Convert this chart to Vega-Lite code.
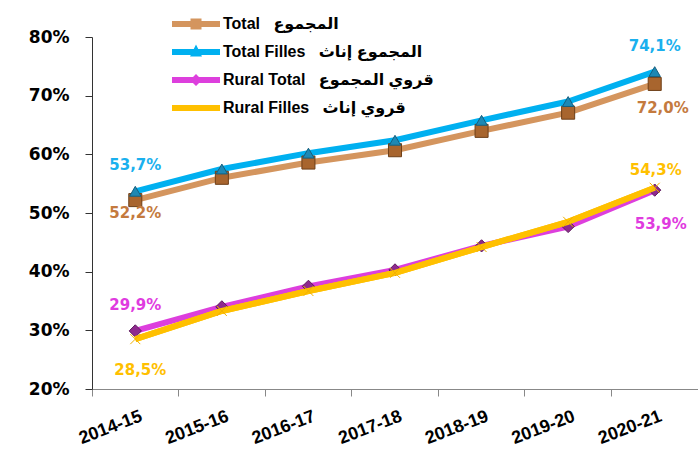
{
  "$schema": "https://vega.github.io/schema/vega-lite/v6.json",
  "width": 606,
  "height": 352,
  "autosize": {"type": "none"},
  "padding": {"left": 92, "top": 37, "right": 0, "bottom": 60},
  "background": "white",
  "config": {
    "view": {"stroke": null},
    "locale": {"number": {"decimal": ",", "thousands": " ", "grouping": [3], "currency": ["", " €"]}}
  },
  "data": {
    "values": [
      {"year": "2014-15", "series": "Total", "value": 0.522},
      {"year": "2015-16", "series": "Total", "value": 0.560},
      {"year": "2016-17", "series": "Total", "value": 0.586},
      {"year": "2017-18", "series": "Total", "value": 0.607},
      {"year": "2018-19", "series": "Total", "value": 0.640},
      {"year": "2019-20", "series": "Total", "value": 0.671},
      {"year": "2020-21", "series": "Total", "value": 0.720},
      {"year": "2014-15", "series": "Total Filles", "value": 0.537},
      {"year": "2015-16", "series": "Total Filles", "value": 0.575},
      {"year": "2016-17", "series": "Total Filles", "value": 0.602},
      {"year": "2017-18", "series": "Total Filles", "value": 0.624},
      {"year": "2018-19", "series": "Total Filles", "value": 0.658},
      {"year": "2019-20", "series": "Total Filles", "value": 0.690},
      {"year": "2020-21", "series": "Total Filles", "value": 0.741},
      {"year": "2014-15", "series": "Rural Total", "value": 0.299},
      {"year": "2015-16", "series": "Rural Total", "value": 0.340},
      {"year": "2016-17", "series": "Rural Total", "value": 0.375},
      {"year": "2017-18", "series": "Rural Total", "value": 0.403},
      {"year": "2018-19", "series": "Rural Total", "value": 0.444},
      {"year": "2019-20", "series": "Rural Total", "value": 0.477},
      {"year": "2020-21", "series": "Rural Total", "value": 0.539},
      {"year": "2014-15", "series": "Rural Filles", "value": 0.285},
      {"year": "2015-16", "series": "Rural Filles", "value": 0.333},
      {"year": "2016-17", "series": "Rural Filles", "value": 0.367},
      {"year": "2017-18", "series": "Rural Filles", "value": 0.398},
      {"year": "2018-19", "series": "Rural Filles", "value": 0.442},
      {"year": "2019-20", "series": "Rural Filles", "value": 0.485},
      {"year": "2020-21", "series": "Rural Filles", "value": 0.543}
    ]
  },
  "encoding": {
    "x": {
      "field": "year", "type": "ordinal", "sort": null,
      "scale": {"type": "band", "paddingInner": 0, "paddingOuter": 0},
      "axis": {
        "title": null, "bandPosition": 0, "labelAngle": -21, "labelAlign": "right", "labelBaseline": "top",
        "labelOffset": 3, "labelPadding": 11, "labelFont": "Liberation Sans", "labelFontSize": 18,
        "labelFontWeight": "bold", "labelColor": "#000000", "tickSize": 7, "tickColor": "#888888",
        "domainColor": "#888888", "labelOverlap": false, "labelFlush": false, "grid": false
      }
    },
    "y": {
      "field": "value", "type": "quantitative",
      "scale": {"domain": [0.2, 0.8], "nice": false, "zero": false},
      "axis": {
        "title": null, "values": [0.2, 0.3, 0.4, 0.5, 0.6, 0.7, 0.8], "format": ".0%",
        "labelFont": "DejaVu Sans", "labelFontSize": 17, "labelFontWeight": "bold", "labelColor": "#000000",
        "labelPadding": 16, "tickSize": 7, "tickColor": "#333333", "domainColor": "#333333", "grid": false
      }
    }
  },
  "layer": [
    {
      "mark": {"type": "line", "strokeWidth": 6, "strokeJoin": "round"},
      "encoding": {
        "color": {
          "field": "series", "type": "nominal",
          "scale": {"domain": ["Total", "Total Filles", "Rural Total", "Rural Filles"], "range": ["#D4955E", "#00B0F0", "#DD3FDD", "#FFC000"]},
          "legend": {
            "orient": "none", "legendX": 94, "legendY": -23, "title": null, "padding": 0,
            "symbolSize": 400, "labelOffset": 17, "rowPadding": 10,
            "labelFont": "Liberation Sans, DejaVu Sans", "labelFontSize": 16, "labelFontWeight": "bold", "labelColor": "#000000",
            "labelLimit": 400,
            "labelExpr": "datum.label === 'Total' ? 'Total \u00a0\u00a0المجموع' : datum.label === 'Total Filles' ? 'Total Filles \u00a0\u00a0المجموع إناث' : datum.label === 'Rural Total' ? 'Rural Total \u00a0\u00a0قروي المجموع' : 'Rural Filles \u00a0\u00a0قروي إناث'",
            "encode": {
              "symbols": {
                "update": {
                  "shape": {"signal": "datum.value === 'Total' ? 'M-2.4,-0.3H2.4V0.3H-2.4Z M-0.55,-0.55H0.55V0.55H-0.55Z' : datum.value === 'Total Filles' ? 'M-2.4,-0.3H2.4V0.3H-2.4Z M0,-0.75L0.6,0.45H-0.6Z' : datum.value === 'Rural Total' ? 'M-2.4,-0.3H2.4V0.3H-2.4Z M0,-0.6L0.6,0L0,0.6L-0.6,0Z' : 'M-2.4,-0.3H2.4V0.3H-2.4Z'"},
                  "fill": {"signal": "scale('color', datum.value)"},
                  "stroke": {"value": "transparent"},
                  "strokeWidth": {"value": 0},
                  "opacity": {"value": 1}
                }
              }
            }
          }
        }
      }
    },
    {
      "transform": [{"filter": "datum.series === 'Total'"}],
      "mark": {"type": "point", "shape": "square", "filled": true, "size": 170, "fill": "#A8652E", "stroke": "#6E3F18", "strokeWidth": 1, "opacity": 1}
    },
    {
      "transform": [{"filter": "datum.series === 'Total Filles'"}],
      "mark": {"type": "point", "shape": "triangle-up", "filled": true, "size": 130, "fill": "#1E88B4", "stroke": "#155F7E", "strokeWidth": 1, "opacity": 1}
    },
    {
      "transform": [{"filter": "datum.series === 'Rural Total'"}],
      "mark": {"type": "point", "shape": "diamond", "filled": true, "size": 150, "fill": "#8E2A8E", "stroke": "#5E1A5E", "strokeWidth": 1, "opacity": 1}
    },
    {
      "transform": [{"filter": "datum.series === 'Rural Filles'"}],
      "mark": {"type": "line", "strokeWidth": 6, "strokeJoin": "round", "color": "#FFC000"}
    },
    {
      "transform": [{"filter": "datum.series === 'Rural Filles'"}],
      "mark": {"type": "point", "shape": "M-1,-1L1,1M-1,1L1,-1", "filled": false, "size": 100, "stroke": "#F0B000", "strokeWidth": 1, "opacity": 1}
    },
    {
      "transform": [{"filter": "datum.series === 'Total Filles' && datum.year === '2014-15'"}],
      "mark": {"type": "text", "font": "DejaVu Sans", "fontSize": 15, "fontWeight": "bold", "color": "#1AB0EE", "dy": -26, "baseline": "middle", "align": "center"},
      "encoding": {"text": {"field": "value", "type": "quantitative", "format": ".1%"}}
    },
    {
      "transform": [{"filter": "datum.series === 'Total Filles' && datum.year === '2020-21'"}],
      "mark": {"type": "text", "font": "DejaVu Sans", "fontSize": 15, "fontWeight": "bold", "color": "#1AB0EE", "dy": -26, "baseline": "middle", "align": "center"},
      "encoding": {"text": {"field": "value", "type": "quantitative", "format": ".1%"}}
    },
    {
      "transform": [{"filter": "datum.series === 'Total' && datum.year === '2014-15'"}],
      "mark": {"type": "text", "font": "DejaVu Sans", "fontSize": 15, "fontWeight": "bold", "color": "#C47A3E", "dy": 13, "baseline": "middle", "align": "center"},
      "encoding": {"text": {"field": "value", "type": "quantitative", "format": ".1%"}}
    },
    {
      "transform": [{"filter": "datum.series === 'Total' && datum.year === '2020-21'"}],
      "mark": {"type": "text", "font": "DejaVu Sans", "fontSize": 15, "fontWeight": "bold", "color": "#C47A3E", "dy": 24, "dx": 8, "baseline": "middle", "align": "center"},
      "encoding": {"text": {"field": "value", "type": "quantitative", "format": ".1%"}}
    },
    {
      "transform": [{"filter": "datum.series === 'Rural Total' && datum.year === '2014-15'"}],
      "mark": {"type": "text", "font": "DejaVu Sans", "fontSize": 15, "fontWeight": "bold", "color": "#DF3BDF", "dy": -26, "baseline": "middle", "align": "center"},
      "encoding": {"text": {"field": "value", "type": "quantitative", "format": ".1%"}}
    },
    {
      "transform": [{"filter": "datum.series === 'Rural Total' && datum.year === '2020-21'"}],
      "mark": {"type": "text", "font": "DejaVu Sans", "fontSize": 15, "fontWeight": "bold", "color": "#DF3BDF", "dy": 34, "dx": 6, "baseline": "middle", "align": "center"},
      "encoding": {"text": {"field": "value", "type": "quantitative", "format": ".1%"}}
    },
    {
      "transform": [{"filter": "datum.series === 'Rural Filles' && datum.year === '2014-15'"}],
      "mark": {"type": "text", "font": "DejaVu Sans", "fontSize": 15, "fontWeight": "bold", "color": "#FFC000", "dy": 31, "dx": 5, "baseline": "middle", "align": "center"},
      "encoding": {"text": {"field": "value", "type": "quantitative", "format": ".1%"}}
    },
    {
      "transform": [{"filter": "datum.series === 'Rural Filles' && datum.year === '2020-21'"}],
      "mark": {"type": "text", "font": "DejaVu Sans", "fontSize": 15, "fontWeight": "bold", "color": "#FFC000", "dy": -18, "dx": 1, "baseline": "middle", "align": "center"},
      "encoding": {"text": {"field": "value", "type": "quantitative", "format": ".1%"}}
    }
  ]
}
